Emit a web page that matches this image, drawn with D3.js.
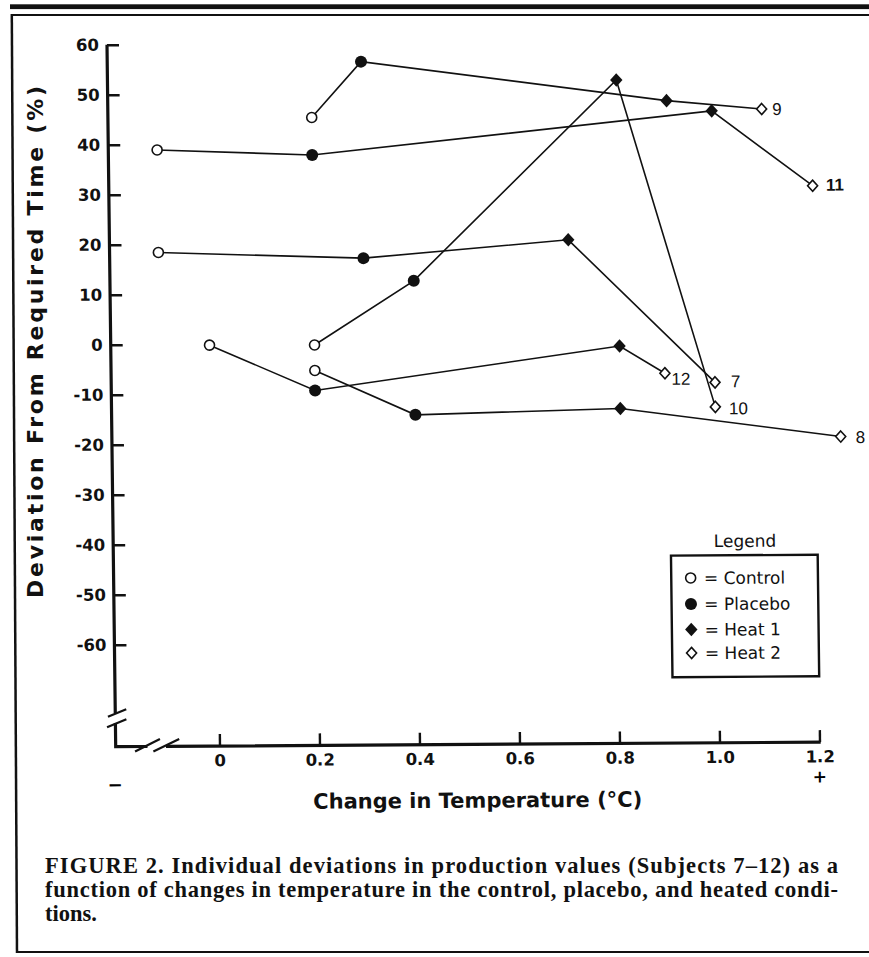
<!DOCTYPE html>
<html><head><meta charset="utf-8">
<script src="https://cdn.jsdelivr.net/npm/d3@7"></script>
<style>body{margin:0;background:#fff}</style>
</head><body>
<script>
// ---- data ----
const subjects = ["7","8","9","10","11","12"];
const conditions = ["Control","Placebo","Heat 1","Heat 2"];
// change in temperature (°C) for Control, Placebo, Heat 1, Heat 2
const tempChange = [
  [-0.11, 0.30, 0.71, 1.00],
  [ 0.20, 0.40, 0.81, 1.25],
  [ 0.20, 0.30, 0.91, 1.10],
  [ 0.20, 0.40, 0.81, 1.00],
  [-0.11, 0.20, 1.00, 1.20],
  [-0.01, 0.20, 0.81, 0.90]
];
// deviation from required time (%)
const deviation = [
  [ 18.4,  17.0,  20.4,  -8.3],
  [ -5.4, -14.4, -13.4, -19.3],
  [ 45.2,  56.3,  48.1,  46.3],
  [ -0.3,  12.4,  52.3, -13.2],
  [ 38.9,  37.7,  46.0,  30.9],
  [ -0.2,  -9.4,  -0.9,  -6.4]
];
const xTicks = [0, 0.2, 0.4, 0.6, 0.8, 1.0, 1.2];
const yTicks = [60, 50, 40, 30, 20, 10, 0, -10, -20, -30, -40, -50, -60];
const labelOffset = {"7":[16,5],"8":[15,6.6],"9":[10.6,6],"10":[13.6,7.6],"11":[13.4,5],"12":[6.5,11.7]};

// ---- layout ----
const W = 869, H = 957;
const AX = 115.7, AY = 746.7;          // axis corner
const svg = d3.select("body").append("svg").attr("width", W).attr("height", H)
  .style("background", "#fff");

// page frame
svg.append("rect").attr("x", 10).attr("y", 4.3).attr("width", W - 10).attr("height", 4.8).attr("fill", "#111");
svg.append("line").attr("x1", 11).attr("x2", W).attr("y1", 15).attr("y2", 15).attr("stroke", "#111").attr("stroke-width", 2);
svg.append("line").attr("x1", 11.8).attr("x2", 17).attr("y1", 14).attr("y2", 953).attr("stroke", "#111").attr("stroke-width", 2.5);
svg.append("line").attr("x1", 16).attr("x2", W).attr("y1", 952).attr("y2", 952).attr("stroke", "#111").attr("stroke-width", 2);

// scanned page is slightly skewed
const B = -0.0065, C = 0.0124;
const g = svg.append("g")
  .attr("transform", `matrix(1,${B},${C},1,${-C * AY},${-B * AX})`);

const x = d3.scaleLinear().domain([0, 1.2]).range([219.5, 819.5]);
const y = d3.scaleLinear().domain([-60, 60]).range([644.8, 44.8]);

const tickFont = "'DejaVu Sans', sans-serif";

// y axis ticks + labels
const yAxis = d3.axisLeft(y).tickValues(yTicks).tickSize(-12).tickPadding(8)
  .tickFormat(d => String(d));
const gy = g.append("g").attr("transform", `translate(${AX},0)`).call(yAxis);
gy.select(".domain").remove();
gy.selectAll(".tick line").attr("stroke", "#111").attr("stroke-width", 2.6);
gy.selectAll(".tick text").attr("font-family", tickFont).attr("font-weight", "bold")
  .attr("font-size", 16.5).attr("fill", "#111");

// x axis ticks + labels
const xAxis = d3.axisBottom(x).tickValues(xTicks).tickSize(-12).tickPadding(8.5)
  .tickFormat(d => d === 0 ? "0" : d3.format(".1f")(d));
const gx = g.append("g").attr("transform", `translate(0,${AY})`).call(xAxis);
gx.select(".domain").remove();
gx.selectAll(".tick line").attr("stroke", "#111").attr("stroke-width", 2.4);
gx.selectAll(".tick text").attr("font-family", tickFont).attr("font-weight", "bold")
  .attr("font-size", 16.5).attr("fill", "#111");

// axis lines with breaks
const axisPath = d3.path();
axisPath.moveTo(AX, y(60)); axisPath.lineTo(AX, 713);
axisPath.moveTo(AX, 723); axisPath.lineTo(AX, AY); axisPath.lineTo(147.5, AY);
axisPath.moveTo(166, AY); axisPath.lineTo(x(1.2) + 1.2, AY);
g.append("path").attr("d", axisPath.toString()).attr("fill", "none")
  .attr("stroke", "#111").attr("stroke-width", 3.2);
const brk = [[108.3,716.7,126.7,709.3],[107.3,727.3,126.7,719.3],[135,751.7,160,739.3],[153.3,751.7,179.3,739.3]];
g.selectAll("line.brk").data(brk).join("line").attr("class", "brk")
  .attr("x1", d => d[0]).attr("y1", d => d[1]).attr("x2", d => d[2]).attr("y2", d => d[3])
  .attr("stroke", "#111").attr("stroke-width", 2.2);

// - and + signs under the x axis
g.append("text").attr("x", AX - 1).attr("y", 791).attr("text-anchor", "middle")
  .attr("font-family", tickFont).attr("font-weight", "bold").attr("font-size", 18).text("−");
g.append("text").attr("x", x(1.2)).attr("y", 787).attr("text-anchor", "middle")
  .attr("font-family", tickFont).attr("font-weight", "bold").attr("font-size", 17).text("+");

// axis titles
g.append("text").attr("x", 477).attr("y", 810).attr("text-anchor", "middle")
  .attr("font-family", tickFont).attr("font-weight", "bold").attr("font-size", 21)
  .attr("fill", "#111").text("Change in Temperature (°C)");
svg.append("text").attr("transform", "translate(43,342) rotate(-90)").attr("text-anchor", "middle")
  .attr("font-family", tickFont).attr("font-weight", "bold").attr("font-size", 22)
  .attr("textLength", 512).attr("lengthAdjust", "spacing")
  .attr("fill", "#111").text("Deviation From Required Time (%)");

// markers
function diamond(w, h) { return `M0,${-h}L${w},0L0,${h}L${-w},0Z`; }
function drawMarker(sel, ci) {
  if (ci === 0) sel.append("circle").attr("r", 5).attr("fill", "#fff").attr("stroke", "#111").attr("stroke-width", 1.6);
  else if (ci === 1) sel.append("circle").attr("r", 6).attr("fill", "#111");
  else if (ci === 2) sel.append("path").attr("d", diamond(6.2, 6.8)).attr("fill", "#111");
  else sel.append("path").attr("d", diamond(5, 5.6)).attr("fill", "#fff").attr("stroke", "#111").attr("stroke-width", 1.6);
}

const series = subjects.map((s, i) => ({
  subject: s,
  pts: conditions.map((c, j) => ({ ci: j, t: tempChange[i][j], v: deviation[i][j] }))
}));

const line = d3.line().x(d => x(d.t)).y(d => y(d.v));
g.selectAll("path.subj").data(series).join("path").attr("class", "subj")
  .attr("d", d => line(d.pts)).attr("fill", "none").attr("stroke", "#111").attr("stroke-width", 1.6);

series.forEach(s => {
  s.pts.forEach(p => {
    const m = g.append("g").attr("transform", `translate(${x(p.t)},${y(p.v)})`);
    drawMarker(m, p.ci);
  });
  const last = s.pts[s.pts.length - 1];
  const off = labelOffset[s.subject];
  g.append("text").attr("x", x(last.t) + off[0]).attr("y", y(last.v) + off[1])
    .attr("font-family", "'Liberation Sans', Arial, sans-serif").attr("font-size", 17)
    .attr("font-weight", s.subject === "11" ? "bold" : "normal")
    .attr("fill", "#111").text(s.subject);
});

// legend
const lg = g.append("g");
lg.append("text").attr("x", 747.5).attr("y", 551).attr("text-anchor", "middle")
  .attr("font-family", tickFont).attr("font-size", 17).attr("fill", "#111").text("Legend");
lg.append("rect").attr("x", 673.3).attr("y", 559.3).attr("width", 146.7).attr("height", 121.5)
  .attr("fill", "none").attr("stroke", "#111").attr("stroke-width", 2.4);
const rowY = [581.7, 607.7, 633.3, 656.7];
conditions.forEach((c, j) => {
  const m = lg.append("g").attr("transform", `translate(692.7,${rowY[j]})`);
  drawMarker(m, j);
  lg.append("text").attr("x", 706).attr("y", rowY[j] + 6.2)
    .attr("font-family", tickFont).attr("font-size", 17).attr("fill", "#111")
    .text("= " + c);
});

// caption
const capFont = "'Liberation Serif', 'Times New Roman', serif";
const cap = [
  ["FIGURE 2. Individual deviations in production values (Subjects 7–12) as a", true],
  ["function of changes in temperature in the control, placebo, and heated condi-", true],
  ["tions.", false]
];
cap.forEach((c, i) => {
  const t = svg.append("text").attr("x", 45).attr("y", 873 + i * 24)
    .attr("font-family", capFont).attr("font-weight", "bold").attr("font-size", 22.5)
    .attr("fill", "#111").text(c[0]);
  if (c[1]) t.attr("textLength", 793).attr("lengthAdjust", "spacing");
});
</script>
</body></html>
